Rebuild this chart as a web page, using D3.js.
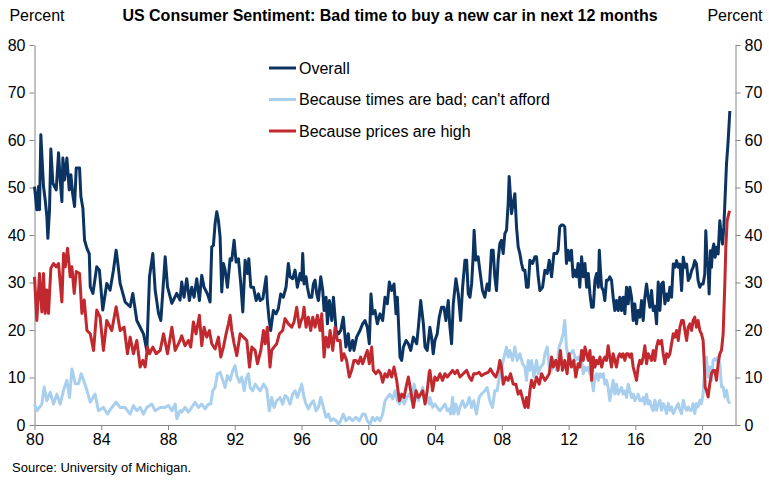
<!DOCTYPE html>
<html>
<head>
<meta charset="utf-8">
<title>US Consumer Sentiment: new car</title>
<script src="https://cdn.jsdelivr.net/npm/d3@7"></script>
<style>
  * { margin: 0; padding: 0; }
  body { background: #fff; }
  svg text { font-family: "Liberation Sans", Arial, sans-serif; fill: #000; }
  .axis path, .axis line { stroke: #868686; }
</style>
</head>
<body>
<svg id="chart" width="769" height="480"></svg>
<script>
// values: [decimal year, percent]
var overall = [
  [1980.00,50.2],[1980.14,45.3],[1980.24,50.2],[1980.30,45.3],[1980.38,61.1],[1980.54,50.2],[1980.64,47.4],[1980.74,43.9],
  [1980.80,39.3],[1980.90,45.3],[1980.98,58.1],[1981.10,50.9],[1981.30,49.5],[1981.44,57.3],[1981.54,51.6],[1981.64,47.0],
  [1981.70,56.2],[1981.80,51.6],[1981.94,56.2],[1982.08,49.5],[1982.18,52.7],[1982.28,48.8],[1982.40,46.0],[1982.50,54.1],
  [1982.70,54.1],[1982.78,48.1],[1982.90,45.6],[1983.00,38.9],[1983.14,37.2],[1983.28,36.1],[1983.34,29.1],[1983.50,27.7],
  [1983.73,33.3],[1983.89,32.6],[1984.09,24.2],[1984.33,29.8],[1984.53,28.4],[1984.73,32.6],[1984.89,36.8],[1984.97,34.7],
  [1985.13,29.8],[1985.43,25.9],[1985.73,24.9],[1985.89,27.7],[1986.13,22.0],[1986.43,19.9],[1986.53,19.2],[1986.73,15.7],
  [1986.89,31.2],[1987.09,36.1],[1987.23,28.4],[1987.43,23.5],[1987.57,22.0],[1987.83,35.4],[1987.97,29.1],[1988.23,25.6],
  [1988.52,27.7],[1988.72,26.3],[1988.82,30.1],[1988.96,26.9],[1989.12,30.8],[1989.28,26.2],[1989.42,29.0],[1989.56,26.9],
  [1989.72,30.8],[1989.88,26.2],[1990.02,31.5],[1990.16,29.0],[1990.36,27.6],[1990.52,25.9],[1990.62,37.5],[1990.72,37.8],
  [1990.82,42.4],[1990.92,44.9],[1991.02,43.1],[1991.12,39.6],[1991.22,28.0],[1991.32,34.0],[1991.42,32.6],[1991.56,29.0],
  [1991.72,35.0],[1991.82,34.7],[1991.96,38.9],[1992.08,34.3],[1992.22,35.0],[1992.36,29.7],[1992.48,23.8],[1992.62,34.7],
  [1992.76,31.9],[1992.84,35.0],[1992.96,29.0],[1993.12,29.0],[1993.28,26.2],[1993.42,27.6],[1993.52,26.2],[1993.68,26.6],
  [1993.88,31.2],[1993.95,26.2],[1994.05,22.4],[1994.15,19.9],[1994.31,24.1],[1994.47,23.4],[1994.61,24.5],[1994.75,27.6],
  [1994.91,26.9],[1995.07,29.0],[1995.21,34.0],[1995.31,31.2],[1995.47,30.8],[1995.61,32.6],[1995.75,29.0],[1995.91,31.9],
  [1996.01,30.5],[1996.07,36.1],[1996.15,29.7],[1996.27,31.2],[1996.35,29.0],[1996.47,26.9],[1996.61,26.9],[1996.71,29.7],
  [1996.81,30.5],[1996.91,27.6],[1997.01,26.2],[1997.15,31.2],[1997.27,28.3],[1997.35,24.1],[1997.47,26.9],[1997.55,21.3],
  [1997.67,26.2],[1997.81,22.0],[1997.91,26.9],[1998.07,19.9],[1998.21,19.2],[1998.35,19.9],[1998.50,22.7],[1998.66,16.4],
  [1998.80,19.2],[1998.90,15.7],[1999.06,17.8],[1999.14,15.7],[1999.30,18.5],[1999.50,19.9],[1999.66,21.3],[1999.80,22.0],
  [1999.94,20.6],[2000.06,17.1],[2000.16,27.6],[2000.26,23.4],[2000.40,24.1],[2000.54,21.3],[2000.70,23.4],[2000.86,22.0],
  [2001.00,26.9],[2001.14,25.5],[2001.26,30.1],[2001.40,28.3],[2001.54,29.7],[2001.66,23.4],[2001.74,26.9],[2001.90,14.3],
  [2002.00,13.6],[2002.10,16.4],[2002.26,17.8],[2002.40,17.1],[2002.54,15.7],[2002.70,18.5],[2002.90,17.1],[2003.00,20.6],
  [2003.14,26.2],[2003.30,21.3],[2003.40,16.4],[2003.53,15.7],[2003.69,20.6],[2003.79,18.5],[2003.89,15.0],[2003.99,17.8],
  [2004.13,19.2],[2004.25,22.7],[2004.39,24.8],[2004.53,24.8],[2004.65,22.0],[2004.79,26.2],[2004.89,20.6],[2004.99,17.1],
  [2005.09,25.5],[2005.25,30.8],[2005.39,27.6],[2005.53,22.0],[2005.65,29.0],[2005.79,34.7],[2005.89,34.7],[2005.99,27.6],
  [2006.09,26.9],[2006.19,29.7],[2006.28,35.4],[2006.34,41.0],[2006.44,34.7],[2006.58,35.4],[2006.68,32.6],[2006.84,28.3],
  [2006.98,26.9],[2007.12,29.7],[2007.24,28.3],[2007.38,36.8],[2007.48,36.8],[2007.58,31.2],[2007.68,28.3],[2007.78,34.7],
  [2007.88,38.2],[2007.98,38.9],[2008.08,36.1],[2008.18,40.3],[2008.28,41.0],[2008.38,46.6],[2008.44,52.3],[2008.52,48.0],
  [2008.58,44.5],[2008.68,46.6],[2008.78,48.7],[2008.88,41.7],[2008.98,37.5],[2009.08,36.1],[2009.18,34.0],[2009.28,32.6],
  [2009.38,32.6],[2009.48,29.0],[2009.58,29.0],[2009.68,34.7],[2009.84,34.0],[2009.98,35.4],[2010.08,35.4],[2010.18,31.2],
  [2010.28,28.3],[2010.44,29.0],[2010.58,32.6],[2010.72,31.9],[2010.84,34.7],[2010.98,31.2],[2011.12,36.1],[2011.28,36.1],
  [2011.37,36.8],[2011.47,41.7],[2011.57,42.1],[2011.67,42.1],[2011.77,41.7],[2011.87,34.0],[2011.97,36.8],[2012.07,34.7],
  [2012.17,36.8],[2012.27,31.2],[2012.37,32.6],[2012.47,31.2],[2012.57,34.0],[2012.67,29.0],[2012.78,35.4],[2012.88,31.2],
  [2012.98,34.0],[2013.08,29.0],[2013.18,31.9],[2013.28,27.6],[2013.38,24.8],[2013.48,24.8],[2013.58,30.5],[2013.68,31.9],
  [2013.78,29.0],[2013.84,36.8],[2013.92,31.9],[2013.98,29.0],[2014.08,28.3],[2014.17,26.2],[2014.27,30.5],[2014.37,30.5],
  [2014.47,31.2],[2014.57,30.5],[2014.67,26.9],[2014.77,24.1],[2014.87,26.2],[2014.97,24.1],[2015.07,26.9],[2015.17,24.1],
  [2015.27,26.9],[2015.37,23.4],[2015.47,29.0],[2015.57,25.5],[2015.67,29.0],[2015.77,26.9],[2015.87,22.0],[2015.97,25.5],
  [2016.07,21.3],[2016.17,24.1],[2016.27,22.7],[2016.37,26.2],[2016.47,22.0],[2016.57,26.9],[2016.67,29.7],[2016.77,26.9],
  [2016.87,24.8],[2016.97,28.3],[2017.07,24.1],[2017.17,25.0],[2017.27,21.3],[2017.37,30.1],[2017.47,24.1],[2017.57,29.7],
  [2017.67,30.1],[2017.77,25.5],[2017.87,27.6],[2017.97,26.2],[2018.07,29.0],[2018.17,26.9],[2018.27,33.9],[2018.37,33.2],
  [2018.47,34.6],[2018.57,33.2],[2018.67,33.9],[2018.77,28.3],[2018.87,35.3],[2018.97,33.2],[2019.07,33.9],[2019.17,30.4],
  [2019.27,31.1],[2019.37,32.5],[2019.46,33.2],[2019.56,34.6],[2019.66,33.9],[2019.76,30.4],[2019.86,29.0],[2019.96,29.7],
  [2020.06,29.7],[2020.16,31.8],[2020.22,40.9],[2020.30,34.6],[2020.36,33.2],[2020.42,27.6],[2020.50,36.7],[2020.56,33.2],
  [2020.62,36.7],[2020.70,38.1],[2020.78,35.3],[2020.86,37.4],[2020.96,36.0],[2021.06,43.0],[2021.14,40.2],[2021.22,38.1],
  [2021.30,41.6],[2021.36,46.5],[2021.46,54.9],[2021.56,59.8],[2021.66,66.1]
];

var timesBad = [
  [1980.00,4.4],[1980.14,3.0],[1980.44,4.4],[1980.58,8.0],[1980.74,5.1],[1980.94,6.9],[1981.14,4.4],[1981.34,6.5],
  [1981.54,4.4],[1981.74,7.3],[1981.94,9.4],[1982.10,5.8],[1982.24,11.8],[1982.44,8.7],[1982.64,8.7],[1982.80,10.8],
  [1982.94,9.4],[1983.14,7.3],[1983.34,4.8],[1983.63,6.5],[1983.83,3.0],[1984.13,3.7],[1984.37,2.3],[1984.63,3.7],
  [1984.89,4.8],[1985.13,3.7],[1985.43,3.7],[1985.73,2.3],[1985.93,4.1],[1986.13,3.0],[1986.33,3.7],[1986.53,2.3],
  [1986.73,3.7],[1987.03,4.4],[1987.23,3.0],[1987.53,3.7],[1987.83,3.7],[1988.03,4.1],[1988.23,3.0],[1988.43,4.4],
  [1988.53,1.3],[1988.72,3.0],[1988.82,2.7],[1989.02,3.7],[1989.22,2.7],[1989.42,3.7],[1989.62,4.8],[1989.82,3.7],
  [1990.02,4.4],[1990.22,3.4],[1990.42,4.4],[1990.56,4.4],[1990.68,7.2],[1990.82,7.9],[1990.96,10.8],[1991.12,11.1],
  [1991.28,9.4],[1991.42,7.9],[1991.56,10.4],[1991.72,9.4],[1991.88,11.5],[1992.02,12.5],[1992.12,10.4],[1992.28,9.0],
  [1992.42,10.1],[1992.56,7.2],[1992.68,9.7],[1992.82,10.8],[1992.92,7.9],[1993.08,7.2],[1993.22,8.6],[1993.36,7.9],
  [1993.52,7.2],[1993.72,8.6],[1993.91,7.6],[1994.07,3.0],[1994.21,5.8],[1994.35,3.7],[1994.51,5.1],[1994.71,5.8],
  [1994.87,4.4],[1995.01,6.2],[1995.15,5.8],[1995.31,4.4],[1995.47,6.5],[1995.61,7.2],[1995.75,5.8],[1995.91,7.5],
  [1996.01,8.6],[1996.15,5.8],[1996.27,4.4],[1996.41,3.4],[1996.55,4.4],[1996.71,5.1],[1996.87,3.0],[1997.01,3.7],
  [1997.15,5.8],[1997.31,3.7],[1997.47,1.6],[1997.61,2.3],[1997.75,0.9],[1997.91,1.3],[1998.07,0.9],[1998.21,0.2],
  [1998.35,0.9],[1998.50,2.3],[1998.66,0.9],[1998.86,1.6],[1999.06,0.9],[1999.26,1.6],[1999.46,0.9],[1999.66,2.3],
  [1999.80,2.3],[1999.94,0.9],[2000.10,0.2],[2000.26,1.6],[2000.40,0.9],[2000.54,1.6],[2000.70,0.9],[2000.86,2.3],
  [2001.00,5.1],[2001.14,5.8],[2001.30,6.5],[2001.46,5.5],[2001.60,7.2],[2001.74,5.1],[2001.86,4.4],[2002.00,5.8],
  [2002.14,4.4],[2002.30,5.8],[2002.46,6.5],[2002.60,5.1],[2002.74,8.6],[2002.86,6.5],[2003.00,5.1],[2003.14,6.5],
  [2003.26,7.9],[2003.40,5.1],[2003.53,5.8],[2003.65,4.4],[2003.69,5.8],[2003.85,3.7],[2003.99,4.4],[2004.13,3.7],
  [2004.29,3.0],[2004.45,3.7],[2004.59,4.4],[2004.73,3.0],[2004.85,3.4],[2004.93,2.3],[2005.05,5.8],[2005.13,2.3],
  [2005.25,4.4],[2005.39,2.3],[2005.49,3.7],[2005.65,5.1],[2005.79,3.7],[2005.93,4.4],[2006.05,5.8],[2006.19,3.7],
  [2006.32,5.1],[2006.48,2.3],[2006.64,5.8],[2006.78,6.5],[2006.98,7.2],[2007.12,7.9],[2007.28,5.1],[2007.44,3.7],
  [2007.58,7.2],[2007.72,7.2],[2007.88,10.8],[2008.04,12.9],[2008.18,15.0],[2008.28,16.4],[2008.38,14.3],[2008.48,15.7],
  [2008.64,13.6],[2008.78,16.4],[2008.92,13.6],[2009.08,15.0],[2009.24,12.9],[2009.38,12.2],[2009.48,9.4],[2009.58,13.6],
  [2009.68,11.5],[2009.78,13.6],[2009.92,10.1],[2010.08,13.6],[2010.18,10.8],[2010.32,12.2],[2010.48,12.9],[2010.58,15.0],
  [2010.72,16.4],[2010.84,12.2],[2010.98,11.5],[2011.12,13.6],[2011.28,11.5],[2011.43,16.4],[2011.57,17.8],[2011.67,19.2],
  [2011.77,22.0],[2011.87,16.4],[2011.97,14.3],[2012.11,15.0],[2012.27,15.7],[2012.43,13.6],[2012.57,14.3],[2012.67,13.6],
  [2012.78,13.6],[2012.88,10.8],[2012.98,12.2],[2013.08,11.5],[2013.18,12.2],[2013.28,10.8],[2013.38,10.1],[2013.48,7.2],
  [2013.58,10.1],[2013.68,10.8],[2013.78,9.4],[2013.88,10.8],[2013.98,10.1],[2014.08,10.8],[2014.17,8.6],[2014.27,9.4],
  [2014.37,7.9],[2014.47,5.1],[2014.57,7.2],[2014.67,9.4],[2014.77,6.5],[2014.87,8.6],[2014.97,6.5],[2015.07,7.2],
  [2015.17,7.9],[2015.27,6.5],[2015.37,7.2],[2015.47,5.8],[2015.57,8.6],[2015.67,7.2],[2015.77,5.8],[2015.87,6.5],
  [2015.97,5.1],[2016.07,5.8],[2016.17,6.5],[2016.27,5.1],[2016.37,5.1],[2016.47,5.8],[2016.57,4.4],[2016.67,6.5],
  [2016.77,4.4],[2016.87,5.1],[2016.97,3.7],[2017.07,3.0],[2017.17,5.2],[2017.27,3.1],[2017.37,4.5],[2017.47,5.2],
  [2017.57,3.1],[2017.67,4.5],[2017.77,3.8],[2017.87,2.4],[2017.97,4.5],[2018.07,3.1],[2018.17,3.8],[2018.27,2.4],
  [2018.37,3.1],[2018.47,3.8],[2018.57,4.5],[2018.67,3.1],[2018.77,2.4],[2018.87,5.2],[2018.97,3.8],[2019.07,3.1],
  [2019.17,3.8],[2019.27,3.1],[2019.37,3.1],[2019.46,4.5],[2019.56,2.4],[2019.66,4.5],[2019.76,3.8],[2019.86,5.2],
  [2019.96,4.5],[2020.06,6.6],[2020.16,12.2],[2020.26,14.3],[2020.36,10.1],[2020.46,12.2],[2020.56,9.4],[2020.66,13.6],
  [2020.76,14.0],[2020.86,13.6],[2020.96,14.3],[2021.06,12.9],[2021.16,8.0],[2021.26,8.0],[2021.36,5.9],[2021.46,7.3],
  [2021.56,5.2],[2021.66,4.5]
];

var pricesHigh = [
  [1980.00,31.2],[1980.14,22.0],[1980.30,31.9],[1980.44,23.8],[1980.54,31.9],[1980.64,23.5],[1980.74,28.4],[1980.84,23.5],
  [1980.98,33.0],[1981.14,34.0],[1981.30,33.3],[1981.44,34.0],[1981.64,25.9],[1981.74,36.1],[1981.84,33.3],[1981.98,37.2],
  [1982.14,31.2],[1982.24,33.3],[1982.38,27.7],[1982.50,32.3],[1982.70,31.9],[1982.84,23.5],[1982.98,26.3],[1983.14,19.9],
  [1983.34,19.2],[1983.54,15.7],[1983.73,24.2],[1983.93,22.7],[1984.13,15.7],[1984.33,22.0],[1984.63,19.9],[1984.89,24.9],
  [1985.13,19.9],[1985.37,20.6],[1985.57,15.0],[1985.73,18.5],[1985.93,15.0],[1986.13,17.8],[1986.33,12.2],[1986.49,13.6],
  [1986.63,12.2],[1986.77,16.4],[1986.89,15.0],[1987.09,16.4],[1987.29,15.0],[1987.53,15.7],[1987.73,19.2],[1987.97,15.0],
  [1988.23,20.6],[1988.43,15.7],[1988.72,17.8],[1988.82,18.8],[1989.02,16.7],[1989.22,17.8],[1989.36,16.4],[1989.52,21.7],
  [1989.68,19.2],[1989.88,23.1],[1990.02,16.7],[1990.16,20.6],[1990.32,18.5],[1990.48,19.9],[1990.62,17.1],[1990.82,16.0],
  [1991.02,18.5],[1991.16,14.3],[1991.32,16.4],[1991.48,19.2],[1991.62,21.3],[1991.72,23.1],[1991.82,19.9],[1991.96,17.1],
  [1992.12,14.6],[1992.32,19.2],[1992.52,18.5],[1992.72,17.8],[1992.88,12.2],[1993.02,16.4],[1993.22,15.7],[1993.36,12.9],
  [1993.56,15.7],[1993.72,19.9],[1993.82,17.1],[1993.95,20.6],[1994.11,12.2],[1994.21,15.7],[1994.35,16.4],[1994.51,17.1],
  [1994.67,19.2],[1994.87,19.9],[1995.01,22.4],[1995.21,21.3],[1995.41,20.6],[1995.55,21.7],[1995.71,24.8],[1995.87,20.6],
  [1995.95,21.7],[1996.07,22.7],[1996.15,24.8],[1996.27,20.6],[1996.41,22.7],[1996.55,19.9],[1996.67,22.7],[1996.81,20.6],
  [1996.95,23.1],[1997.11,19.9],[1997.21,23.4],[1997.35,14.3],[1997.47,18.5],[1997.61,16.4],[1997.71,19.9],[1997.87,15.7],
  [1998.01,20.6],[1998.15,17.8],[1998.31,17.8],[1998.41,13.6],[1998.54,15.0],[1998.70,13.6],[1998.86,10.1],[1999.00,11.5],
  [1999.14,13.6],[1999.26,13.6],[1999.40,12.9],[1999.54,14.3],[1999.66,12.9],[1999.80,14.3],[1999.94,15.7],[2000.06,12.9],
  [2000.20,16.4],[2000.30,11.5],[2000.46,10.8],[2000.60,11.5],[2000.74,10.8],[2000.86,9.0],[2001.00,10.8],[2001.14,10.1],
  [2001.26,11.5],[2001.40,10.1],[2001.54,12.2],[2001.70,9.4],[2001.86,5.1],[2002.00,6.5],[2002.14,5.8],[2002.30,8.6],
  [2002.40,10.1],[2002.54,7.2],[2002.70,3.7],[2002.86,7.2],[2003.00,5.8],[2003.14,6.5],[2003.26,7.2],[2003.40,4.4],
  [2003.53,7.2],[2003.65,11.1],[2003.69,11.5],[2003.85,7.2],[2003.99,10.1],[2004.13,9.4],[2004.29,10.8],[2004.45,9.4],
  [2004.59,10.8],[2004.73,10.1],[2004.89,10.8],[2005.05,11.5],[2005.19,10.8],[2005.33,11.5],[2005.49,10.1],[2005.69,10.8],
  [2005.89,11.5],[2006.05,10.1],[2006.19,9.4],[2006.32,10.8],[2006.48,10.8],[2006.64,11.1],[2006.78,10.4],[2006.98,10.8],
  [2007.18,11.1],[2007.32,11.8],[2007.48,10.8],[2007.64,10.1],[2007.78,11.5],[2007.88,13.6],[2007.98,12.2],[2008.08,8.6],
  [2008.24,10.1],[2008.38,9.4],[2008.52,10.8],[2008.68,8.6],[2008.84,8.6],[2008.98,6.5],[2009.12,7.2],[2009.28,5.1],
  [2009.38,3.7],[2009.48,5.8],[2009.58,3.7],[2009.68,7.2],[2009.78,9.4],[2009.92,7.9],[2010.08,10.1],[2010.24,8.6],
  [2010.38,10.8],[2010.58,9.4],[2010.72,10.1],[2010.84,10.8],[2010.98,14.3],[2011.08,12.2],[2011.24,13.6],[2011.37,11.5],
  [2011.51,15.7],[2011.63,11.5],[2011.77,13.6],[2011.91,10.8],[2012.03,15.0],[2012.17,12.2],[2012.31,13.6],[2012.43,10.1],
  [2012.57,12.9],[2012.67,12.2],[2012.78,15.7],[2012.88,13.6],[2012.98,16.4],[2013.08,15.0],[2013.18,13.6],[2013.28,15.7],
  [2013.38,9.4],[2013.48,14.3],[2013.58,12.2],[2013.68,13.6],[2013.78,12.9],[2013.88,14.3],[2013.98,12.2],[2014.08,13.6],
  [2014.17,14.3],[2014.27,13.6],[2014.37,16.7],[2014.47,14.3],[2014.57,12.2],[2014.67,15.0],[2014.77,13.6],[2014.87,12.2],
  [2014.97,14.3],[2015.07,15.0],[2015.17,14.3],[2015.27,15.0],[2015.37,13.6],[2015.47,15.0],[2015.57,15.0],[2015.67,14.3],
  [2015.77,15.0],[2015.87,12.2],[2015.97,10.8],[2016.07,9.4],[2016.17,12.2],[2016.27,13.6],[2016.37,12.9],[2016.47,14.3],
  [2016.57,16.7],[2016.67,12.9],[2016.77,15.0],[2016.87,14.3],[2016.97,13.6],[2017.07,15.7],[2017.17,13.6],[2017.27,16.4],
  [2017.37,17.8],[2017.47,17.1],[2017.57,17.8],[2017.67,15.0],[2017.77,12.9],[2017.87,15.0],[2017.97,14.3],[2018.07,15.0],
  [2018.17,17.1],[2018.27,19.2],[2018.37,18.5],[2018.47,19.9],[2018.57,17.8],[2018.67,20.6],[2018.77,22.0],[2018.87,22.0],
  [2018.97,19.9],[2019.07,17.8],[2019.17,20.6],[2019.27,21.3],[2019.37,19.9],[2019.46,22.0],[2019.56,22.7],[2019.66,20.6],
  [2019.76,22.0],[2019.86,19.9],[2019.96,19.2],[2020.06,17.8],[2020.12,13.6],[2020.18,8.0],[2020.26,7.3],[2020.36,5.9],
  [2020.46,8.7],[2020.56,10.8],[2020.66,11.5],[2020.76,11.5],[2020.86,9.4],[2020.96,12.9],[2021.06,15.0],[2021.16,15.7],
  [2021.26,19.2],[2021.36,29.7],[2021.42,37.4],[2021.50,43.0],[2021.62,44.8],[2021.66,45.1]
];

var yearTicks = [1980, 1984, 1988, 1992, 1996, 2000, 2004, 2008, 2012, 2016, 2020];
var valueTicks = [0, 10, 20, 30, 40, 50, 60, 70, 80];

var series = [
  { name: "Overall", data: overall, color: "#0c3462" },
  { name: "Because times are bad; can't afford", data: timesBad, color: "#a8cfee" },
  { name: "Because prices are high", data: pricesHigh, color: "#c1292e" }
];

var svg = d3.select("#chart");
var plotLeft = 34.5, plotRight = 735.5, plotTop = 45, plotBottom = 425;

var x = d3.scaleLinear().domain([1980, 2022]).range([plotLeft, plotRight]);
var y = d3.scaleLinear().domain([0, 80]).range([plotBottom, plotTop]);

// axes
var xAxis = d3.axisBottom(x).tickValues(yearTicks).tickSize(5).tickPadding(4)
  .tickFormat(function (d) { return d3.format("02")(d % 100); })
  .tickSizeOuter(0);
svg.append("g").attr("class", "axis")
  .attr("transform", "translate(0," + plotBottom + ")")
  .call(xAxis);

svg.append("g").attr("class", "axis")
  .attr("transform", "translate(" + plotLeft + ",0)")
  .call(d3.axisLeft(y).tickValues(valueTicks).tickSize(5).tickPadding(4).tickSizeOuter(0));

svg.append("g").attr("class", "axis")
  .attr("transform", "translate(" + plotRight + ",0)")
  .call(d3.axisRight(y).tickValues(valueTicks).tickSize(5).tickPadding(4).tickSizeOuter(0));

svg.selectAll(".axis text")
  .style("font-size", "16px")
  .style("font-family", "'Liberation Sans', Arial, sans-serif")
  .attr("fill", "#000");

// lines
var line = d3.line()
  .x(function (d) { return x(d[0]); })
  .y(function (d) { return y(d[1]); });

svg.append("g").selectAll("path")
  .data(series)
  .enter().append("path")
  .attr("d", function (s) { return line(s.data); })
  .attr("fill", "none")
  .attr("stroke", function (s) { return s.color; })
  .attr("stroke-width", 3)
  .attr("stroke-linejoin", "round");

// legend
var legend = svg.append("g").attr("transform", "translate(269,68)");
var item = legend.selectAll("g").data(series).enter().append("g")
  .attr("transform", function (d, i) { return "translate(0," + (i * 31.5) + ")"; });
item.append("line")
  .attr("x1", 0).attr("x2", 27).attr("y1", 0).attr("y2", 0)
  .attr("stroke", function (d) { return d.color; })
  .attr("stroke-width", 3);
item.append("text")
  .attr("x", 30).attr("y", 5.5)
  .style("font-size", "16px")
  .text(function (d) { return d.name; });

// titles
svg.append("text").attr("x", 37).attr("y", 21).attr("text-anchor", "middle")
  .style("font-size", "16px").text("Percent");
svg.append("text").attr("x", 735).attr("y", 21).attr("text-anchor", "middle")
  .style("font-size", "16px").text("Percent");
svg.append("text").attr("x", 390).attr("y", 21).attr("text-anchor", "middle")
  .style("font-size", "16px").style("font-weight", "bold")
  .text("US Consumer Sentiment: Bad time to buy a new car in next 12 months");
svg.append("text").attr("x", 12).attr("y", 472)
  .style("font-size", "13px").text("Source: University of Michigan.");
</script>
</body>
</html>
